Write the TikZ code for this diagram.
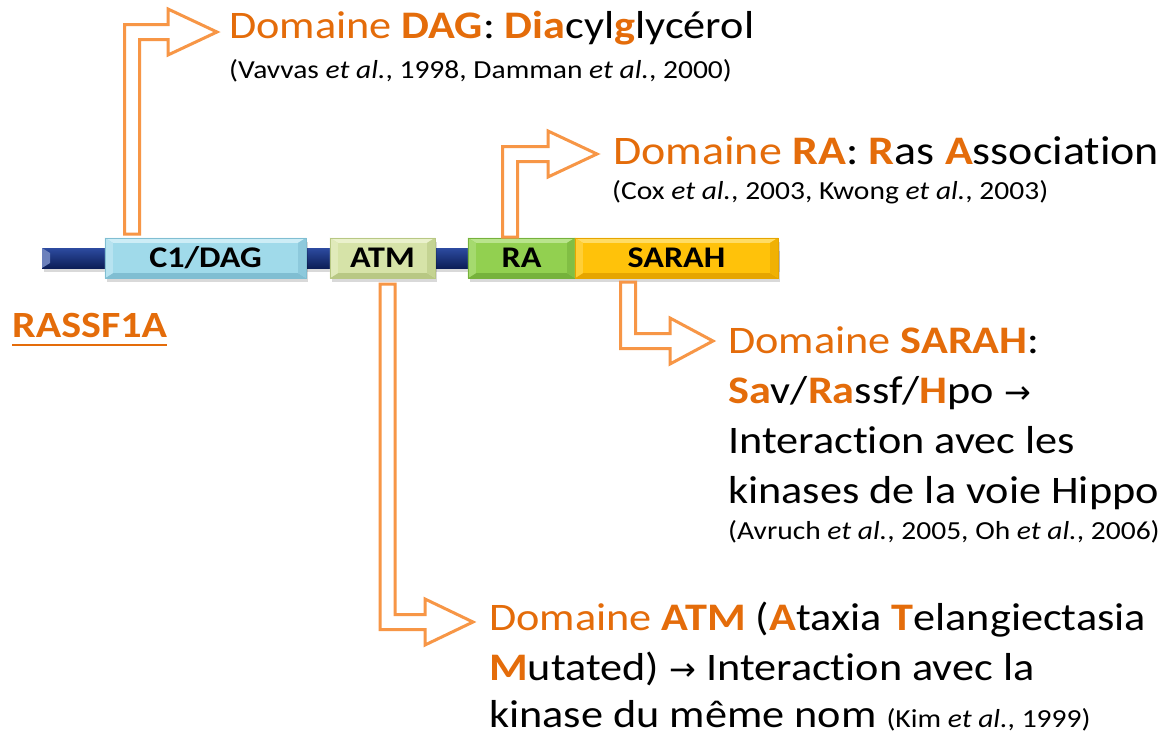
\documentclass[tikz,border=0pt]{standalone}
\usepackage{fontspec}
\setmainfont[FakeStretch=1.135, Ligatures=NoCommon]{Carlito}
\newfontfamily\arrowfont{DejaVu Sans}
\usetikzlibrary{backgrounds}
\definecolor{dorange}{RGB}{228,108,10}
\definecolor{aorange}{RGB}{247,150,70}
\definecolor{navytop}{RGB}{45,75,160}
\definecolor{navybot}{RGB}{12,30,88}
\definecolor{bluemain}{RGB}{160,218,234}
\definecolor{bluelight}{RGB}{205,237,246}
\definecolor{bluedark}{RGB}{128,190,210}
\definecolor{olivemain}{RGB}{214,227,168}
\definecolor{olivelight}{RGB}{234,241,204}
\definecolor{olivedark}{RGB}{184,200,132}
\definecolor{greenmain}{RGB}{146,208,80}
\definecolor{greenlight}{RGB}{185,228,140}
\definecolor{greendark}{RGB}{118,178,60}
\definecolor{goldmain}{RGB}{255,194,10}
\definecolor{goldlight}{RGB}{255,220,100}
\definecolor{golddark}{RGB}{230,165,0}
\newcommand\orr[1]{\textcolor{dorange}{#1}}
\newcommand\orb[1]{\textcolor{dorange}{\bfseries #1}}
\newcommand\arr{{\arrowfont\fontsize{32}{32}\selectfont →}}
\newcommand\citefont{\fontsize{26}{30}\selectfont}
\newcommand\bevel[4]{%
  \fill[black,opacity=0.15] ([shift={(2,4)}]#1.north west) rectangle ([shift={(2,4)}]#1.south east);
  \fill[#2] (#1.north west) rectangle (#1.south east);
  \fill[#3] (#1.north west) -- (#1.north east) -- ([shift={(-8,5)}]#1.north east) -- ([shift={(8,5)}]#1.north west) -- cycle;
  \fill[#4] (#1.south west) -- (#1.south east) -- ([shift={(-8,-5)}]#1.south east) -- ([shift={(8,-5)}]#1.south west) -- cycle;
  \fill[#3!50!#2] (#1.north west) -- ([shift={(8,5)}]#1.north west) -- ([shift={(8,-5)}]#1.south west) -- (#1.south west) -- cycle;
  \fill[#4!60!#2] (#1.north east) -- ([shift={(-8,5)}]#1.north east) -- ([shift={(-8,-5)}]#1.south east) -- (#1.south east) -- cycle;
  \draw[#4,line width=0.6pt] (#1.north west) rectangle (#1.south east);
}
% bent block arrows: x, ystart, ycentre, xbase, xtip
\newcommand\bentup[5]{%
  \draw[barrow] (#1-7.5,#2) -- (#1-7.5,#3-7.5) -- (#4,#3-7.5) -- (#4,#3-23) -- (#5,#3) -- (#4,#3+23) -- (#4,#3+7.5) -- (#1+7.5,#3+7.5) -- (#1+7.5,#2) -- cycle;}
\newcommand\bentdown[5]{%
  \draw[barrow] (#1-7.5,#2) -- (#1-7.5,#3+7.5) -- (#4,#3+7.5) -- (#4,#3+23) -- (#5,#3) -- (#4,#3-23) -- (#4,#3-7.5) -- (#1+7.5,#3-7.5) -- (#1+7.5,#2) -- cycle;}
\tikzset{
  barrow/.style={draw=aorange, line width=3pt, fill=white, line join=miter},
  dombox/.style={inner sep=0, font=\fontsize{30}{34}\selectfont\bfseries, text=black},
  txt/.style={anchor=base west, inner sep=0, font=\fontsize{39}{47}\selectfont, text=black},
  cite/.style={anchor=base west, inner sep=0, font=\citefont, text=black},
}
\begin{document}
\begin{tikzpicture}[x=1pt,y=-1pt]
\useasboundingbox (0,0) rectangle (1170,736);

% domain labels (nodes)
\node[dombox, minimum width=201, minimum height=40] (c1) at (205.5,258) {C1/DAG};
\node[dombox, minimum width=105, minimum height=40] (atm) at (382.5,258) {ATM};
\node[dombox, minimum width=107, minimum height=40] (ra) at (521.5,258) {RA};
\node[dombox, minimum width=203, minimum height=40] (sarah) at (676.5,258) {SARAH};

\begin{pgfonlayer}{background}
  \fill[white] (0,0) rectangle (1170,736);
  % backbone
  \fill[black,opacity=0.15] (44,251) rectangle (780,272);
  \shade[top color=navytop, bottom color=navybot] (42,248) rectangle (778,268);
  \fill[navytop!70!white] (42,248) -- (50,253) -- (50,263) -- (42,268) -- cycle;
  \bevel{c1}{bluemain}{bluelight}{bluedark}
  \bevel{atm}{olivemain}{olivelight}{olivedark}
  \bevel{ra}{greenmain}{greenlight}{greendark}
  \bevel{sarah}{goldmain}{goldlight}{golddark}
\end{pgfonlayer}

% bent block arrows
\bentup{132}{234}{32}{168}{217}
\bentup{510}{237}{154}{548}{597}
\bentdown{628}{282}{341}{670}{713}
\bentdown{387.5}{284}{622}{425}{473}

% protein name
\node[anchor=base west, inner sep=0, font=\fontsize{37}{44}\selectfont\bfseries, text=dorange] (rassf) at (12,337) {RASSF1A};
\draw[dorange, line width=2pt] ([shift={(0,8)}]rassf.base west) -- ([shift={(0,8)}]rassf.base east);

% DAG text
\node[txt] (dag1) at (229,38) {\orr{Domaine }\orb{DAG}: \orb{Dia}cyl\orb{g}lycérol};
\node[cite] (dag2) at (229,78) {(Vavvas \textit{et al.}, 1998, Damman \textit{et al.}, 2000)};

% RA text
\node[txt, font=\fontsize{40.5}{47}\selectfont] (ra1) at (613,164) {\orr{Domaine }\orb{RA}: \orb{R}as \orb{A}ssociation};
\node[cite] (ra2) at (612,199) {(Cox \textit{et al.}, 2003, Kwong \textit{et al.}, 2003)};

% SARAH text
\node[txt] (sarah1) at (728,353) {\orr{Domaine }\orb{SARAH}:};
\node[txt] (sarah2) at (728,403) {\orb{Sa}v/\orb{Ra}ssf/\orb{H}po \arr};
\node[txt] (sarah3) at (728,453) {Interaction avec les};
\node[txt] (sarah4) at (728,503) {kinases de la voie Hippo};
\node[cite] (sarah5) at (728,539) {(Avruch \textit{et al.}, 2005, Oh \textit{et al.}, 2006)};

% ATM text
\node[txt] (atm1) at (489,630) {\orr{Domaine }\orb{ATM} (\orb{A}taxia \orb{T}elangiectasia};
\node[txt] (atm2) at (489,680) {\orb{M}utated) \arr{} Interaction avec la};
\node[txt] (atm3) at (489,727) {kinase du même nom {\citefont (Kim \textit{et al.}, 1999)}};
\end{tikzpicture}
\end{document}
